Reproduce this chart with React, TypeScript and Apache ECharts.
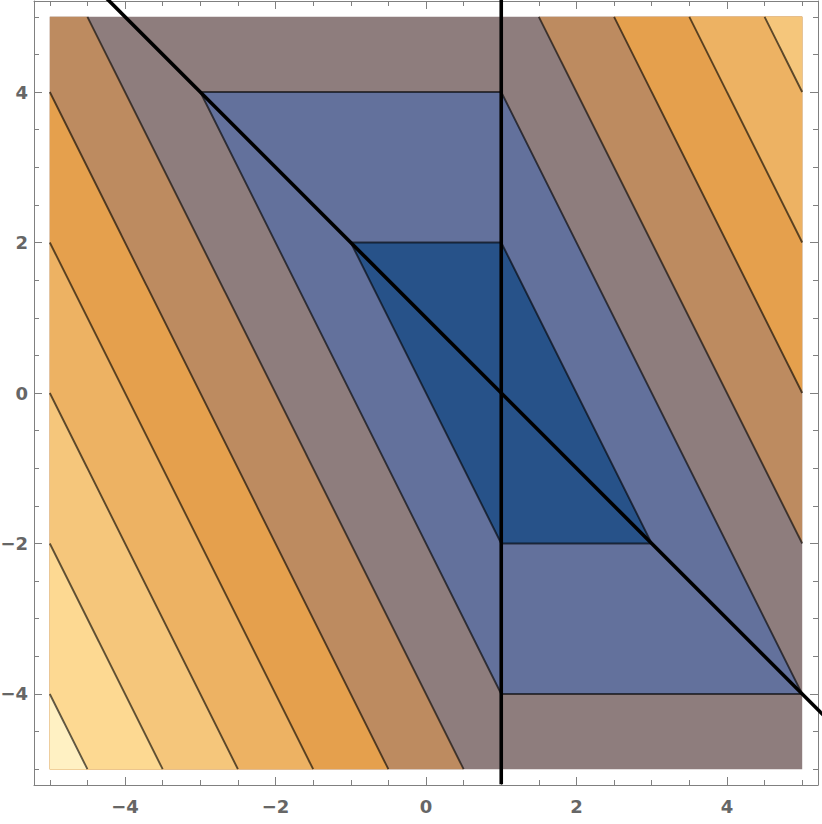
import React, { useEffect, useRef } from "react";
import * as echarts from "echarts";

// Tick values
const majorTicks = [-4, -2, 0, 2, 4];
const minorTicks = [-5, -4.5, -4, -3.5, -3, -2.5, -2, -1.5, -1, -0.5, 0, 0.5, 1, 1.5, 2, 2.5, 3, 3.5, 4, 4.5, 5];

// Contour bands (lower bound of the band's level) and their region vertices, painted in order
const bandLevels = [4, 6, 8, 10, 12, 6, 8, 10, 12, 14, 16, 2, 0];
const bandVertices: number[][][] = [
  [[-5, 5], [5, 5], [5, -5], [-5, -5]],
  [[1.5, 5], [5, 5], [5, -2]],
  [[2.5, 5], [5, 5], [5, 0]],
  [[3.5, 5], [5, 5], [5, 2]],
  [[4.5, 5], [5, 5], [5, 4]],
  [[-5, 5], [-4.5, 5], [0.5, -5], [-5, -5]],
  [[-5, 4], [-0.5, -5], [-5, -5]],
  [[-5, 2], [-1.5, -5], [-5, -5]],
  [[-5, 0], [-2.5, -5], [-5, -5]],
  [[-5, -2], [-3.5, -5], [-5, -5]],
  [[-5, -4], [-4.5, -5], [-5, -5]],
  [[-3, 4], [1, 4], [5, -4], [1, -4]],
  [[-1, 2], [1, 2], [3, -2], [1, -2]],
];

// Contour lines
const contourLines: number[][][] = [
  [[1.5, 5], [5, -2]],
  [[2.5, 5], [5, 0]],
  [[3.5, 5], [5, 2]],
  [[4.5, 5], [5, 4]],
  [[-4.5, 5], [0.5, -5]],
  [[-5, 4], [-0.5, -5]],
  [[-5, 2], [-1.5, -5]],
  [[-5, 0], [-2.5, -5]],
  [[-5, -2], [-3.5, -5]],
  [[-5, -4], [-4.5, -5]],
  [[-3, 4], [1, 4], [5, -4], [1, -4], [-3, 4]],
  [[-1, 2], [1, 2], [3, -2], [1, -2], [-1, 2]],
];

// Overlaid black lines: y = 1 - x and x = 1
const referenceLines: number[][][] = [
  [[-6, 7], [6, -5]],
  [[1, -5.2], [1, 6]],
];

const levelColors: Record<number, string> = {
  0: "#275289",
  2: "#63719c",
  4: "#8e7d7d",
  6: "#bd8b60",
  8: "#e5a04d",
  10: "#edb263",
  12: "#f5c67b",
  14: "#fdd992",
  16: "#fff1c3",
};

const AX_MIN = -5.21;
const AX_MAX = 5.21;
const FRAME = "#808080";
const LABEL = {
  color: "#666666",
  fontSize: 18,
  fontWeight: "bold" as const,
  fontFamily: "DejaVu Sans, Liberation Sans, sans-serif",
};
const fmt = (v: number) => String(v).replace("-", "\u2212");

function axis(position: string, ticks: number[], len: number, labels: boolean, line: boolean, isX: boolean) {
  return {
    type: "value",
    position,
    min: AX_MIN,
    max: AX_MAX,
    axisLine: { show: line, onZero: false, lineStyle: { color: FRAME, width: 1 } },
    axisTick: { show: true, inside: true, length: len, customValues: ticks, lineStyle: { color: FRAME, width: 1 } },
    axisLabel: labels
      ? { show: true, customValues: ticks, formatter: fmt, margin: isX ? 12 : 6, hideOverlap: false, ...LABEL }
      : { show: false },
    splitLine: { show: false },
  };
}

export default function App() {
  const ref = useRef<HTMLDivElement>(null);
  useEffect(() => {
    if (!ref.current) return;
    const chart = echarts.init(ref.current, null, { renderer: "svg" });
    chart.setOption({
      animation: false,
      grid: { left: 34, right: 4, top: 1, bottom: 39, containLabel: false, outerBoundsMode: "none" },
      xAxis: [
        axis("bottom", majorTicks, 8, true, true, true),
        axis("bottom", minorTicks, 5, false, false, true),
        axis("top", majorTicks, 8, false, true, true),
        axis("top", minorTicks, 5, false, false, true),
      ],
      yAxis: [
        axis("left", majorTicks, 8, true, true, false),
        axis("left", minorTicks, 5, false, false, false),
        axis("right", majorTicks, 8, false, true, false),
        axis("right", minorTicks, 5, false, false, false),
      ],
      series: [
        {
          type: "custom",
          xAxisIndex: 0,
          yAxisIndex: 0,
          silent: true,
          clip: false,
          z: 1,
          data: bandLevels.map((lvl, i) => [i, lvl]),
          renderItem: (params: any, api: any) => {
            const i = params.dataIndex;
            return {
              type: "polygon",
              shape: { points: bandVertices[i].map((p) => api.coord(p)) },
              style: { fill: levelColors[bandLevels[i]], stroke: null },
            };
          },
        },
        {
          type: "custom",
          xAxisIndex: 0,
          yAxisIndex: 0,
          silent: true,
          clip: false,
          z: 2,
          data: contourLines.map((_, i) => [i]),
          renderItem: (params: any, api: any) => ({
            type: "polyline",
            shape: { points: contourLines[params.dataIndex].map((p) => api.coord(p)) },
            style: { fill: null, stroke: "rgba(0,0,0,0.62)", lineWidth: 1.9 },
          }),
        },
        {
          type: "custom",
          xAxisIndex: 0,
          yAxisIndex: 0,
          silent: true,
          clip: false,
          z: 3,
          data: referenceLines.map((_, i) => [i]),
          renderItem: (params: any, api: any) => ({
            type: "polyline",
            shape: { points: referenceLines[params.dataIndex].map((p) => api.coord(p)) },
            style: { fill: null, stroke: "#000000", lineWidth: 3.6 },
          }),
        },
      ],
    });
    return () => chart.dispose();
  }, []);
  return (
    <div
      ref={ref}
      style={{ position: "fixed", left: 0, top: 0, width: 822, height: 824, background: "#ffffff" }}
    />
  );
}
